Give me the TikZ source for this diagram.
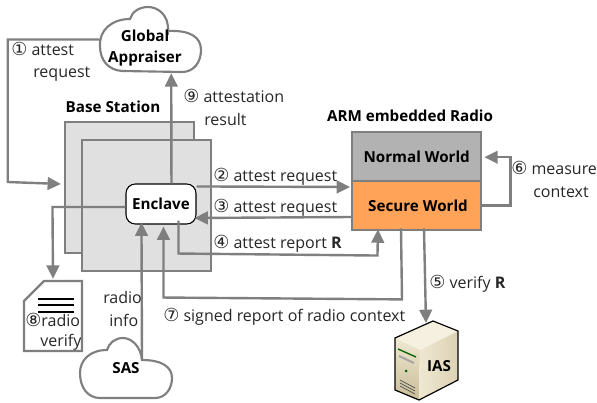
\documentclass[tikz,border=0pt]{standalone}
\usepackage{fontspec}
\setmainfont{Open Sans}
\newfontfamily\circfont{DejaVu Sans}
\usetikzlibrary{arrows.meta,calc}
\newcommand{\cn}[1]{{\circfont\fontsize{13.5}{13.5}\selectfont #1}}
\definecolor{lineg}{HTML}{7F7F7F}
\definecolor{swfill}{HTML}{FFA359}
\definecolor{srvtop}{HTML}{F5F0E0}
\definecolor{srvside}{HTML}{DCD2B4}
\definecolor{srvfront}{HTML}{EFE8D2}
\definecolor{srvlow}{HTML}{C9BD98}
\tikzset{
  x=0.75pt,y=-0.75pt,
  lbl/.style={inner sep=0pt,anchor=base west,font=\fontsize{12}{12}\selectfont,text=black!85},
  capt/.style={inner sep=0pt,font=\bfseries\fontsize{11.4}{12}\selectfont,text=black},
  bsbox/.style={draw=lineg,line width=1.6pt,fill=black!12,minimum width=96.75pt,minimum height=98.25pt,inner sep=0pt},
  world/.style={draw=lineg,line width=1.8pt,minimum width=96.75pt,minimum height=36.75pt,inner sep=0pt,font=\bfseries\fontsize{11.4}{12}\selectfont},
  conn/.style={draw=lineg,line width=1.8pt,-{Triangle[length=10pt,width=9.5pt,fill=lineg]}},
  cloudline/.style={draw=lineg,line width=1.6pt,fill=white},
  hidden/.style={inner sep=0pt,draw=none},
}
\begin{document}
\begin{tikzpicture}
\useasboundingbox (0,0) rectangle (597,403);
% base station
\node[bsbox] (bsback) at (129.5,187.5) {};
\node[bsbox] (bsfront) at (146.5,205.5) {};
% global appraiser cloud
\path[cloudline] (130,19) .. controls (112,19) and (99,30) .. (100,46)
  .. controls (100,60) and (108,70) .. (122,71) -- (182,72)
  .. controls (194,72) and (201,62) .. (201,50)
  .. controls (201,37) and (190,30) .. (168,31)
  .. controls (169,15) and (158,7) .. (148,7)
  .. controls (139,7) and (132,12) .. (130,19) -- cycle;
\draw[lineg,line width=1.6pt] (168,31) -- (168,35);
\node[hidden,minimum width=75.75pt,minimum height=48.75pt] (ga) at (150.5,39.5) {};
\node[capt] at (145,36) {Global};
\node[capt] at (145,59) {Appraiser};
% SAS cloud
\path[cloudline] (107,350) .. controls (90,350) and (80,360) .. (80,373)
  .. controls (80,388) and (88,398) .. (100,398) -- (155,398)
  .. controls (166,398) and (172,388) .. (172,378)
  .. controls (172,367) and (162,360) .. (142,360)
  .. controls (141,347) and (132,338) .. (123,338)
  .. controls (115,338) and (109,343) .. (107,350) -- cycle;
\node[hidden,minimum width=69pt,minimum height=45pt] (sas) at (126,368) {};
\node[capt] at (126,368) {SAS};
% document
\path[draw=lineg,line width=1.6pt,fill=white] (24,301) -- (44,281) -- (82,281) -- (82,351) -- (24,351) -- cycle;
\node[hidden,minimum width=43.5pt,minimum height=52.5pt] (doc) at (53,316) {};
\draw[black,line width=1.1pt] (38,299) -- (74,299) (38,305) -- (74,305) (38,312) -- (74,312);
% enclave
\node[draw=black,fill=white,rounded corners=7pt,line width=0.8pt,minimum width=52.5pt,minimum height=30pt,inner sep=0pt,font=\bfseries\fontsize{11.4}{12}\selectfont] (enc) at (161,204) {Enclave};
% radio
\node[world,fill=black!30,anchor=north west] (nw) at (351,131) {Normal World};
\node[world,fill=swfill,anchor=north west] (sw) at (351,180) {\hspace*{2pt}Secure World};
% connectors
\draw[conn] (ga.west) -- ++(-92,0) -- ++(0,142.5) -- ($(bsback.west)+(-3,-3.5)$);
\draw[conn] ($(enc.north west)+(46,0)$) -- ($(ga.south west)+(71.5,1)$);
\draw[conn] ($(enc.north east)+(0,3)$) -- ($(sw.north west)+(-1,7)$);
\draw[conn] ($(sw.north west)+(0,37)$) -- ($(enc.east)+(-2,14)$);
\draw[conn] ($(enc.south west)+(53,-4)$) -- ++(0,33) -- ++(199,2) -- ($(sw.south west)+(27,-2)$);
\draw[conn] ($(sw.south west)+(50,-3)$) -- ++(1,71) -- ($(enc.south west)+(38,73)$) -- ($(enc.south west)+(38,2)$);
\draw[conn] ($(sw.south west)+(73,-3)$) -- (426,323);
\draw[conn] (sw.east) -- ++(28,0) |- ($(nw.east)+(2,0.5)$);
\draw[conn] ($(enc.west)+(0,3)$) -- ++(-73,0) -- ($(doc.north)+(0,-2)$);
\draw[conn] ($(sas.north)+(16,22)$) -- ($(enc.south west)+(16,-2)$);
% labels
\node[capt] at (113,107) {Base Station};
\node[capt] at (410,116) {ARM embedded Radio};
\node[lbl] at (11,56) {\cn{①} attest};
\node[lbl] at (33,78) {request};
\node[lbl] at (183,103) {\cn{⑨} attestation};
\node[lbl] at (204,126) {result};
\node[lbl] at (213,181) {\cn{②} attest request};
\node[lbl] at (213,213) {\cn{③} attest request};
\node[lbl] at (213,248) {\cn{④} attest report \textbf{R}};
\node[lbl] at (429,288) {\cn{⑤} verify \textbf{R}};
\node[lbl] at (511,175) {\cn{⑥} measure};
\node[lbl] at (533,198) {context};
\node[lbl] at (163,321) {\cn{⑦} signed report of radio context};
\node[lbl] at (103,303) {radio};
\node[lbl] at (109,326) {info};
\node[lbl] at (25,326) {\cn{⑧}radio};
\node[lbl] at (40,346) {verify};
% IAS server
\fill[srvtop] (433,321) -- (458,331) -- (420,350) -- (395,338) -- cycle;
\shade[top color=srvfront,bottom color=srvlow] (395,338) -- (420,350) -- (419,400) -- (395,390) -- cycle;
\shade[left color=srvfront,right color=srvside] (420,350) -- (458,331) -- (458,380) -- (419,400) -- cycle;
\draw[black,line width=0.9pt,line join=round] (433,321) -- (458,331) -- (458,380) -- (419,400) -- (395,390) -- (395,338) -- cycle;
\draw[green!40!black,line width=1pt] (398,349) -- (416,357);
\draw[black!35,line width=1.5pt] (399,356) -- (414,363);
\fill[green!40!black] (406,371) circle (1.5);
\draw[black!70,line width=0.5pt] (400,380) -- (415,388) (400,383) -- (415,391) (400,386) -- (415,394);
\node[capt] at (439,366) {IAS};
\end{tikzpicture}
\end{document}
